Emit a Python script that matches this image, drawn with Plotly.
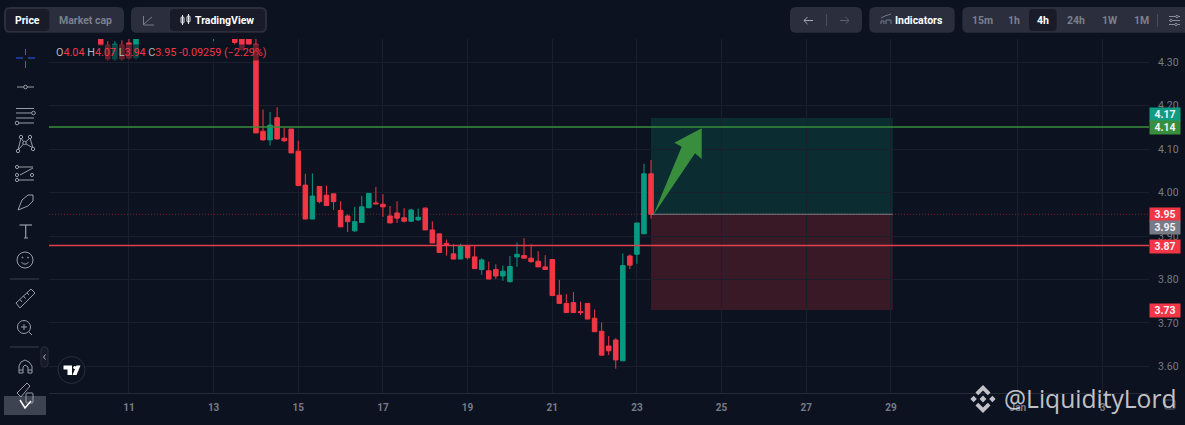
import pandas as pd
import plotly.graph_objects as go

W, H = 1185, 425
BG = "#0c121f"
RED = "#f23645"
GREEN = "#089981"
LINE_GREEN = "#388e3c"
GREY = "#787b86"
ICON = "#9a9ea9"

# 4h bars, counted from 14 Dec 00:00 (bars above the visible range are left out)
bar_offset = [-22, -21, -20, -19, -18, -17, -6, -3, -2, -1,
              0, 1, 2, 3, 4, 5, 6, 7, 8, 9, 10, 11, 12, 13, 14, 15, 16, 17, 18, 19,
              20, 21, 22, 23, 24, 25, 26, 27, 28, 29, 30, 31, 32, 33, 34, 35, 36, 37, 38, 39,
              40, 41, 42, 43, 44, 45, 46, 47, 48, 49, 50, 51, 52, 53, 54, 55, 56]
open_prices = [4.37, 4.339, 4.307, 4.339, 4.344, 4.31, 4.37, 4.37, 4.38, 4.38,
               4.341, 4.141, 4.121, 4.172, 4.125, 4.146, 4.095, 4.017, 3.939, 4.014, 3.994, 3.997, 3.959, 3.946, 3.912, 3.931, 3.965, 3.976, 3.973, 3.946,
               3.953, 3.942, 3.934, 3.937, 3.964, 3.914, 3.905, 3.883, 3.859, 3.847, 3.878, 3.852, 3.823, 3.820, 3.823, 3.808, 3.795, 3.852, 3.855, 3.849,
               3.842, 3.829, 3.846, 3.764, 3.745, 3.747, 3.726, 3.745, 3.711, 3.681, 3.647, 3.661, 3.613, 3.854, 3.858, 3.905, 4.043]
high_prices = [4.39, 4.348, 4.348, 4.35, 4.36, 4.38, 4.40, 4.40, 4.40, 4.40,
               4.36, 4.191, 4.185, 4.196, 4.149, 4.146, 4.119, 4.043, 4.044, 4.014, 4.016, 3.997, 3.980, 3.950, 3.967, 3.992, 3.998, 4.013, 3.996, 3.969,
               3.980, 3.964, 3.963, 3.963, 3.966, 3.934, 3.905, 3.892, 3.881, 3.882, 3.878, 3.878, 3.849, 3.841, 3.835, 3.832, 3.854, 3.885, 3.895, 3.881,
               3.865, 3.856, 3.846, 3.799, 3.766, 3.771, 3.749, 3.745, 3.731, 3.701, 3.670, 3.665, 3.860, 3.858, 3.930, 4.066, 4.075]
low_prices = [4.339, 4.303, 4.303, 4.303, 4.305, 4.305, 4.348, 4.34, 4.326, 4.339,
              4.137, 4.119, 4.108, 4.123, 4.116, 4.091, 4.016, 3.939, 3.939, 3.975, 3.970, 3.960, 3.921, 3.909, 3.909, 3.931, 3.965, 3.974, 3.944, 3.930,
              3.930, 3.931, 3.932, 3.935, 3.914, 3.884, 3.862, 3.855, 3.847, 3.847, 3.846, 3.825, 3.811, 3.801, 3.801, 3.797, 3.793, 3.829, 3.849, 3.839,
              3.829, 3.823, 3.763, 3.745, 3.724, 3.724, 3.718, 3.709, 3.680, 3.626, 3.626, 3.595, 3.613, 3.824, 3.836, 3.905, 3.94]
close_prices = [4.339, 4.307, 4.341, 4.307, 4.309, 4.36, 4.39, 4.345, 4.329, 4.341,
                4.137, 4.121, 4.155, 4.123, 4.119, 4.091, 4.016, 3.939, 3.992, 3.979, 3.970, 3.979, 3.921, 3.933, 3.933, 3.967, 3.998, 3.974, 3.967, 3.930,
                3.941, 3.934, 3.960, 3.943, 3.914, 3.884, 3.862, 3.878, 3.847, 3.878, 3.850, 3.825, 3.845, 3.801, 3.808, 3.819, 3.830, 3.858, 3.849, 3.841,
                3.829, 3.823, 3.763, 3.745, 3.724, 3.724, 3.724, 3.709, 3.680, 3.626, 3.636, 3.615, 3.832, 3.833, 3.930, 4.043, 3.95]

tick_dates = ["2023-12-11", "2023-12-13", "2023-12-15", "2023-12-17", "2023-12-19", "2023-12-21",
              "2023-12-23", "2023-12-25", "2023-12-27", "2023-12-29", "2024-01-01", "2024-01-03"]
tick_labels = ["11", "13", "15", "17", "19", "21", "23", "25", "27", "29", "Jan", "3"]
price_ticks = [3.6, 3.7, 3.8, 3.9, 4.0, 4.1, 4.2, 4.3]

# horizontal levels as drawn on the chart
resistance = 4.1506
support = 3.878
last_close = 3.95
target_price = 4.1713
stop_price = 3.73
entry_time = "2023-12-23 08:00"
exit_time = "2023-12-29 01:00"


def X(px):
    return px / W


def Y(py):
    return 1 - py / H


def pth(points, close=False):
    s = "M" + " L".join(f"{X(a):.5f},{Y(b):.5f}" for a, b in points)
    return s + (" Z" if close else "")


shapes = []


def line(points, color=ICON, width=1, close=False, fill=None):
    shapes.append(dict(type="path", xref="paper", yref="paper", path=pth(points, close),
                       line=dict(color=color, width=width), fillcolor=fill, layer="above"))


def solid(points, color):
    shapes.append(dict(type="path", xref="paper", yref="paper", path=pth(points, True),
                       line=dict(width=0), fillcolor=color, layer="above"))


def circ(cx, cy, r, color=ICON, width=1, fill=None):
    shapes.append(dict(type="circle", xref="paper", yref="paper", x0=X(cx - r), x1=X(cx + r),
                       y0=Y(cy - r), y1=Y(cy + r), line=dict(color=color, width=width),
                       fillcolor=fill, layer="above"))


def rrect(x0, y0, x1, y1, r, fill, color=None):
    p = (f"M{X(x0 + r)},{Y(y0)} L{X(x1 - r)},{Y(y0)} Q{X(x1)},{Y(y0)} {X(x1)},{Y(y0 + r)} "
         f"L{X(x1)},{Y(y1 - r)} Q{X(x1)},{Y(y1)} {X(x1 - r)},{Y(y1)} L{X(x0 + r)},{Y(y1)} "
         f"Q{X(x0)},{Y(y1)} {X(x0)},{Y(y1 - r)} L{X(x0)},{Y(y0 + r)} Q{X(x0)},{Y(y0)} {X(x0 + r)},{Y(y0)} Z")
    shapes.append(dict(type="path", xref="paper", yref="paper", path=p, fillcolor=fill,
                       line=dict(width=1 if color else 0, color=color), layer="above"))


annotations = []


def label(px, py, text, color="#ffffff", size=10.5, anchor="center", weight=None, family="Roboto"):
    annotations.append(dict(xref="paper", yref="paper", x=X(px), y=Y(py), text=text, showarrow=False,
                            xanchor=anchor, yanchor="middle",
                            font=dict(color=color, size=size, family=family, weight=weight)))


def tag(py, text, color):
    annotations.append(dict(xref="paper", yref="paper", x=X(1149), y=Y(py), text=f"<b>{text}</b>", showarrow=False,
                            xanchor="left", yanchor="middle", width=30, height=13.4, borderpad=0,
                            bgcolor=color, font=dict(color="#f0f3fa", size=10.5, family="Roboto")))


# trade box, then the levels
shapes.append(dict(type="rect", xref="x", yref="y", x0=entry_time, x1=exit_time, y0=last_close, y1=target_price,
                   fillcolor="rgba(8,153,129,0.2)", line=dict(width=0), layer="below"))
shapes.append(dict(type="rect", xref="x", yref="y", x0=entry_time, x1=exit_time, y0=stop_price, y1=last_close,
                   fillcolor="rgba(242,54,69,0.2)", line=dict(width=0), layer="below"))
shapes.append(dict(type="line", xref="paper", yref="y", x0=X(49), x1=X(1149), y0=last_close, y1=last_close,
                   line=dict(color="rgba(242,54,69,0.45)", width=1, dash="1px,2px"), layer="above"))
shapes.append(dict(type="line", xref="x", yref="y", x0=entry_time, x1=exit_time, y0=last_close, y1=last_close,
                   line=dict(color="rgba(150,155,165,0.7)", width=1), layer="above"))
shapes.append(dict(type="line", xref="paper", yref="y", x0=X(49), x1=X(1149), y0=resistance, y1=resistance,
                   line=dict(color=LINE_GREEN, width=1.5), layer="above"))
shapes.append(dict(type="line", xref="paper", yref="y", x0=X(49), x1=X(1149), y0=support, y1=support,
                   line=dict(color="#e0404e", width=1.5), layer="above"))

# drawn arrow
solid([(653.3, 215), (681.7, 146.7), (674.3, 142.7), (701.7, 128.3), (701.7, 159), (695, 153.3)], LINE_GREEN)

# top bar
BTN = "#2a2e3d"
ACTIVE = "#191c28"
rrect(4, 7, 124, 32.7, 6, BTN)
rrect(6, 9, 49.3, 31, 4, ACTIVE)
label(27.5, 20, "<b>Price</b>", size=10.5)
label(86, 20, "<b>Market cap</b>", color="#7c808c", size=10.5)
rrect(131, 7, 267, 32.7, 6, BTN)
rrect(170, 9, 265, 31, 4, ACTIVE)
line([(143.5, 16), (143.5, 25), (154, 25)], "#787c88")
line([(144, 24), (152, 17)], "#787c88")
rrect(181, 17, 184, 23, 1, None, "#e8e8ec")
rrect(187, 16, 190, 22, 1, None, "#e8e8ec")
line([(182.5, 15), (182.5, 25)], "#e8e8ec")
line([(188.5, 14), (188.5, 24)], "#e8e8ec")
label(224, 20, "<b>TradingView</b>", size=10.5)
rrect(790, 7, 862, 32.7, 6, BTN)
line([(804, 20.5), (813, 20.5)], "#a5a8b2")
line([(807.5, 17), (804, 20.5), (807.5, 24)], "#a5a8b2")
line([(826.5, 14), (826.5, 26)], "#4a4e5c")
line([(840, 20.5), (849, 20.5)], "#5c606c")
line([(845.5, 17), (849, 20.5), (845.5, 24)], "#5c606c")
rrect(869.3, 7, 954.7, 32.7, 6, BTN)
line([(881, 24), (881, 21), (884, 21), (884, 24)], "#787c88")
line([(886, 24), (886, 20), (891, 20), (891, 24)], "#787c88")
line([(881, 18), (885, 16), (891, 14)], "#787c88")
label(919, 20, "<b>Indicators</b>", size=10.5)
rrect(962.3, 7, 1190, 32.7, 6, BTN)
rrect(1029, 9, 1056.7, 31, 4, ACTIVE)
for lab, px, col in [("15m", 982, "#7c808c"), ("1h", 1014, "#7c808c"), ("4h", 1043, "#ffffff"),
                     ("24h", 1076, "#7c808c"), ("1W", 1110, "#7c808c"), ("1M", 1141, "#7c808c")]:
    label(px, 20, f"<b>{lab}</b>", color=col, size=10.5)
line([(1157.6, 14), (1157.6, 27)], "#4a4e5c")
for yy, kx in [(16.5, 1177), (20.5, 1171), (24.5, 1176)]:
    line([(1169, yy), (1180, yy)], "#8a8e9a")
    circ(kx, yy, 1.2, "#8a8e9a", 1, BTN)

# left tool strip
BLUE = "#2962ff"
line([(16, 58), (23, 58)], BLUE)
line([(28, 58), (35, 58)], BLUE)
line([(25.5, 49), (25.5, 55)], BLUE)
line([(25.5, 61), (25.5, 68)], BLUE)
line([(17, 87), (34, 87)])
circ(25.5, 87, 1.8, fill=BG)
line([(16, 108.5), (34, 108.5)])
line([(16, 113), (32, 113)])
circ(33.5, 113, 1.8)
line([(16, 118), (34, 118)])
line([(19, 123), (34, 123)])
circ(17, 123, 1.8)
for a, b in [((21, 138), (24.5, 143)), ((30, 138), (24.5, 143)), ((18, 150), (24.5, 143)), ((33, 148), (24.5, 143)),
             ((18, 150), (21, 138)), ((33, 148), (30, 138))]:
    line([a, b])
for cx, cy in [(21, 137), (30, 137), (18, 151), (33, 149), (24.5, 143)]:
    circ(cx, cy, 1.7, fill=BG)
line([(19, 167), (33, 167)])
line([(19, 180), (34, 180)])
line([(20, 175), (33, 168)])
circ(17, 167, 1.6, fill=BG)
circ(17, 175, 1.6, fill=BG)
circ(32, 175, 1.6, fill=BG)
circ(17, 180, 1.6, fill=BG)
line([(18, 210), (22, 200), (28, 195), (33, 195), (33, 201), (28, 206)], close=True)
line([(19.5, 225), (32, 225)], width=1.2)
line([(25.7, 225), (25.7, 238)], width=1.2)
line([(24, 238), (28, 238)])
circ(25, 260, 8)
circ(22.5, 257.5, 0.5)
circ(28, 257.5, 0.5)
line([(21.5, 262), (23.5, 264), (26.5, 264), (28.5, 262)])
line([(10, 279), (39, 279)], "#3c404c")
line([(16, 303), (31, 289), (35, 293), (20, 308)], close=True)
for a, b in [((20, 299.5), (22, 302)), ((23.5, 296), (25.5, 298.5)), ((27, 293), (29, 295))]:
    line([a, b])
circ(24, 327, 6.5)
line([(21, 327), (27, 327)])
line([(24, 324), (24, 330)])
line([(29, 332), (32, 335)])
line([(10, 347), (39, 347)], "#3c404c")
rrect(41, 347, 48, 367, 3, "#171b27", "#2a2e3a")
line([(45.5, 354.5), (43.5, 357), (45.5, 359.5)], "#b0b3bc")
line([(19, 373), (19, 366), (21, 362), (25, 360), (29, 362), (32, 366), (32, 373), (28, 373), (28, 367), (25, 365),
      (23, 367), (23, 373)], close=True)
line([(19, 370), (23, 370)])
line([(28, 370), (32, 370)])
rrect(4, 396, 46, 415, 0, "rgba(110,115,130,0.5)")
line([(17, 393), (27, 383), (30, 386), (21, 397)], close=True)
rrect(26, 393, 33, 403, 1, None, ICON)
line([(20, 400), (25, 408), (31, 401)], "#ffffff", 1.5)

# tv logo
circ(71.5, 370, 13.5, "#2a2e39", 1, BG)
solid([(63.5, 365.5), (72, 365.5), (72, 375), (67.5, 375), (67.5, 369.5), (63.5, 369.5)], "#ffffff")
circ(74.8, 367.5, 1.6, "#ffffff", 0, "#ffffff")
solid([(76.5, 365.5), (80.5, 365.5), (76.5, 375), (72.5, 375)], "#ffffff")

# legend row over the chart
vals = ["4.04", "4.07", "3.94", "3.95"]
row = "".join(f'<span style="color:#b2b5be">{k}</span><span style="color:{RED}">{v}</span> '
              for k, v in zip("OHLC", vals))
row += f'<span style="color:{RED}">-0.09259 (−2.29%)</span>'
annotations.append(dict(xref="paper", yref="paper", x=X(54), y=Y(52.5), text=row, showarrow=False, xanchor="left",
                        yanchor="middle", bgcolor="rgba(12,18,31,0.6)", borderpad=1,
                        font=dict(size=10.8, family="Roboto")))

# price tags
tag(114, "4.17", "#0f9d82")
tag(127.7, "4.14", LINE_GREEN)
tag(214, "3.95", RED)
tag(227.5, "3.95", GREY)
tag(246, "3.87", RED)
tag(310, "3.73", RED)

# watermark
wm = "rgba(226,226,230,0.85)"
solid([(983, 395.6), (986.4, 399), (983, 402.4), (979.6, 399)], wm)
solid([(973.6, 395.8), (976.8, 399), (973.6, 402.2), (970.4, 399)], wm)
solid([(992.4, 395.8), (995.6, 399), (992.4, 402.2), (989.2, 399)], wm)
solid([(983, 385), (990.5, 392.5), (987.8, 395.2), (983, 390.4), (978.2, 395.2), (975.5, 392.5)], wm)
solid([(983, 413), (990.5, 405.5), (987.8, 402.8), (983, 407.6), (978.2, 402.8), (975.5, 405.5)], wm)
label(1002, 398, "@LiquidityLord", color=wm, size=24.6, anchor="left", family="Open Sans")
rrect(1165, 400, 1175, 409, 1, None, "#5c606c")

bar_time = pd.Timestamp("2023-12-14") + pd.to_timedelta([b * 4 for b in bar_offset], unit="h")

fig = go.Figure(go.Candlestick(
    x=bar_time, open=open_prices, high=high_prices, low=low_prices, close=close_prices,
    increasing=dict(line=dict(color=GREEN, width=1), fillcolor=GREEN),
    decreasing=dict(line=dict(color=RED, width=1), fillcolor=RED),
    whiskerwidth=0, showlegend=False, hoverinfo="skip",
))

fig.update_layout(
    width=W, height=H, margin=dict(l=0, r=0, t=0, b=0), paper_bgcolor=BG, plot_bgcolor=BG,
    shapes=shapes, annotations=annotations, showlegend=False, dragmode=False, boxgap=0.08,
    xaxis=dict(domain=[X(49), X(1149)], range=["2023-12-09 02:40", "2024-01-04 02:20"], type="date",
               tickvals=tick_dates, ticktext=tick_labels, rangeslider=dict(visible=False),
               gridcolor="#191f2b", gridwidth=1, showline=True, linecolor="#262b37", zeroline=False,
               tickfont=dict(color=GREY, size=10, family="Roboto", weight="bold"), ticks="outside",
               ticklen=5, tickcolor=BG, anchor="y"),
    yaxis=dict(domain=[Y(393), Y(39)], range=[3.539, 4.353], side="right", anchor="x",
               tickvals=price_ticks, ticktext=[f"{v:.2f}" for v in price_ticks],
               gridcolor="#191f2b", gridwidth=1, zeroline=False, showline=False,
               tickfont=dict(color=GREY, size=10.5, family="Roboto"), ticks="outside", ticklen=6, tickcolor=BG),
)

fig.write_html("out.html", config=dict(displayModeBar=False),
               post_script="document.body.style.margin='0';document.body.style.overflow='hidden';")
